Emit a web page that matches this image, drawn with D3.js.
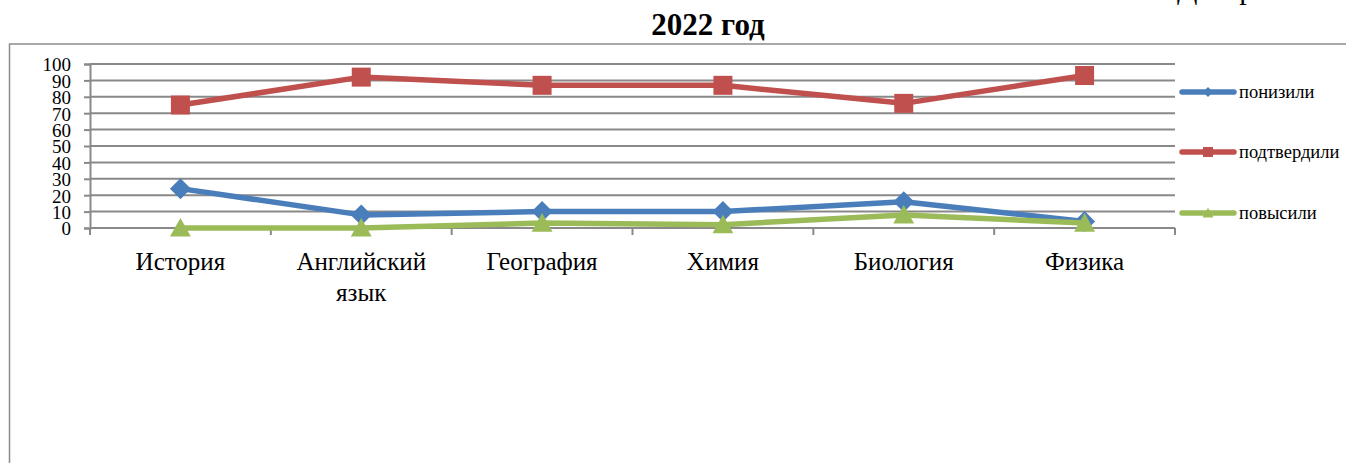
<!DOCTYPE html>
<html>
<head>
<meta charset="utf-8">
<script src="https://cdn.jsdelivr.net/npm/d3@7"></script>
<style>
  html, body { margin: 0; padding: 0; background: #fff; }
  svg { display: block; }
</style>
</head>
<body>
<svg id="chart" width="1346" height="463"></svg>
<script>
// Subjects and shares of results (%)
const categories = ["История", "Английский язык", "География", "Химия", "Биология", "Физика"];
const lowered   = [24, 8, 10, 10, 16, 4];   // понизили
const confirmed = [75, 92, 87, 87, 76, 93]; // подтвердили
const raised    = [0, 0, 3, 2, 8, 3];       // повысили
const yTicks = [0, 10, 20, 30, 40, 50, 60, 70, 80, 90, 100];

const series = [
  { name: "понизили",    values: lowered,   color: "#4a7ebb", marker: "diamond" },
  { name: "подтвердили", values: confirmed, color: "#c0504d", marker: "square" },
  { name: "повысили",    values: raised,    color: "#9bbb59", marker: "triangle" }
];

const SERIF = "'Liberation Serif', 'Times New Roman', serif";
const svg = d3.select("#chart")
  .attr("font-family", SERIF);
const plot = { left: 90, right: 1175, top: 64, bottom: 228 };
const gridColor = "#898989";

// Page caption partly cut off at the top edge
svg.append("text")
  .attr("x", 1177).attr("y", -1)
  .attr("font-family", SERIF)
  .style("font-size", "30px")
  .text("Диаграмма 2");

// Chart frame
svg.append("path")
  .attr("d", `M9.5,470 V44 H1360`)
  .attr("fill", "none")
  .attr("stroke", "#8c8c8c")
  .attr("stroke-width", 1.5);

// Title
svg.append("text")
  .attr("x", 708).attr("y", 35)
  .attr("text-anchor", "middle")
  .attr("font-family", SERIF)
  .style("font-size", "31px")
  .style("font-weight", "bold")
  .text("2022 год");

const x = d3.scaleBand().domain(categories).range([plot.left, plot.right]).padding(0);
const xc = c => x(c) + x.bandwidth() / 2;
const y = d3.scaleLinear().domain([0, 100]).range([plot.bottom, plot.top]);

// Horizontal gridlines
svg.append("g")
  .selectAll("line")
  .data(yTicks.filter(t => t > 0))
  .join("line")
  .attr("x1", plot.left).attr("x2", plot.right)
  .attr("y1", d => y(d)).attr("y2", d => y(d))
  .attr("stroke", gridColor).attr("stroke-width", 2);

// Y axis
const yAxis = svg.append("g")
  .attr("transform", `translate(${plot.left},0)`)
  .call(d3.axisLeft(y).tickValues(yTicks).tickSize(6).tickPadding(13));
yAxis.attr("font-family", SERIF);
yAxis.select(".domain").attr("stroke", gridColor).attr("stroke-width", 2);
yAxis.selectAll(".tick line").attr("stroke", gridColor).attr("stroke-width", 2);
yAxis.selectAll(".tick text")
  .attr("font-family", SERIF)
  .style("font-size", "19px")
  .attr("fill", "#000")
  .attr("dy", "0.36em");

// X axis with ticks between categories
const xAxis = svg.append("g")
  .attr("transform", `translate(0,${plot.bottom})`);
xAxis.append("line")
  .attr("x1", plot.left).attr("x2", plot.right)
  .attr("stroke", gridColor).attr("stroke-width", 2);
const bounds = categories.map(c => x(c)).concat([plot.right]);
xAxis.selectAll("line.tk")
  .data(bounds)
  .join("line")
  .attr("class", "tk")
  .attr("x1", d => d).attr("x2", d => d)
  .attr("y1", 0).attr("y2", 7)
  .attr("stroke", gridColor).attr("stroke-width", 2);

// Category labels (wrapped on spaces)
const labelG = svg.append("g");
categories.forEach(c => {
  const words = c.split(" ");
  const t = labelG.append("text")
    .attr("x", xc(c)).attr("y", 270)
    .attr("text-anchor", "middle")
    .attr("font-family", SERIF)
    .style("font-size", "25px");
  words.forEach((w, i) => {
    t.append("tspan").attr("x", xc(c)).attr("dy", i === 0 ? 0 : 31).text(w);
  });
});

// Marker shapes
function markerPath(type, s) {
  if (type === "diamond") return `M0,${-s} L${s},0 L0,${s} L${-s},0 Z`;
  if (type === "square") return `M${-s},${-s} H${s} V${s} H${-s} Z`;
  return `M0,${-s * 1.05} L${s * 1.1},${s * 0.9} L${-s * 1.1},${s * 0.9} Z`;
}
const markerSize = { diamond: 10.5, square: 9.5, triangle: 9.5 };

const line = d3.line().x((d, i) => xc(categories[i])).y(d => y(d));

series.forEach(s => {
  const g = svg.append("g");
  g.append("path")
    .datum(s.values)
    .attr("d", line)
    .attr("fill", "none")
    .attr("stroke", s.color)
    .attr("stroke-width", 5.5)
    .attr("stroke-linejoin", "round")
    .attr("stroke-linecap", "round");
  g.selectAll("path.m")
    .data(s.values)
    .join("path")
    .attr("class", "m")
    .attr("transform", (d, i) => `translate(${xc(categories[i])},${y(d)})`)
    .attr("d", markerPath(s.marker, markerSize[s.marker]))
    .attr("fill", s.color);
});

// Legend
const legendY = [92, 152, 213];
series.forEach((s, i) => {
  const g = svg.append("g").attr("transform", `translate(0,${legendY[i]})`);
  g.append("line")
    .attr("x1", 1182).attr("x2", 1234)
    .attr("stroke", s.color).attr("stroke-width", 5.5)
    .attr("stroke-linecap", "round");
  g.append("path")
    .attr("transform", "translate(1208,0)")
    .attr("d", markerPath(s.marker, 5))
    .attr("fill", s.color);
  g.append("text")
    .attr("x", 1239).attr("y", 0).attr("dy", "0.33em")
    .attr("font-family", SERIF)
    .style("font-size", "18.5px")
    .text(s.name);
});
</script>
</body>
</html>
